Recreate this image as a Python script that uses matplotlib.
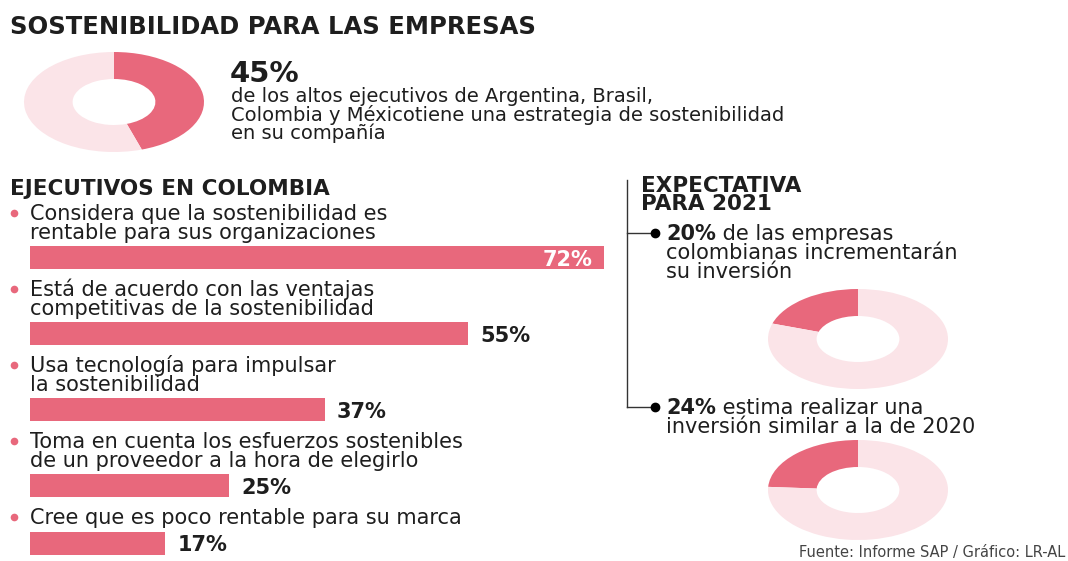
import matplotlib.pyplot as plt

# DATOS
pct_estrategia = 45
items = [
    "Considera que la sostenibilidad es\nrentable para sus organizaciones",
    "Está de acuerdo con las ventajas\ncompetitivas de la sostenibilidad",
    "Usa tecnología para impulsar\nla sostenibilidad",
    "Toma en cuenta los esfuerzos sostenibles\nde un proveedor a la hora de elegirlo",
    "Cree que es poco rentable para su marca",
]
valores = [72, 55, 37, 25, 17]
pct_incremento = 20
pct_similar = 24

ROSA = '#E8687C'
ROSA_CLARO = '#FBE4E8'
TXT = '#1E1E1E'
W, H = 1068, 561

plt.rcParams['font.family'] = ['DejaVu Sans']
fig = plt.figure(figsize=(W / 100, H / 100), dpi=100)
fig.patch.set_facecolor('white')

# eje de fondo en pixeles
bg = fig.add_axes([0, 0, 1, 1])
bg.set_xlim(0, W)
bg.set_ylim(H, 0)
bg.axis('off')


def px_axes(x0, y0, w, h):
    return fig.add_axes([x0 / W, 1 - (y0 + h) / H, w / W, h / H])


def dona(cx, cy, valor, horario):
    ax = px_axes(cx - 90, cy - 50, 180, 100)
    ax.pie([valor, 100 - valor], colors=[ROSA, ROSA_CLARO], startangle=90,
           counterclock=not horario,
           wedgeprops=dict(width=0.54, edgecolor='none'))
    ax.set_aspect('auto')
    ax.set_xlim(-1, 1)
    ax.set_ylim(-1, 1)
    ax.axis('off')


def negrita_y_texto(x, y, neg, resto):
    t = bg.text(x, y, neg, fontsize=15, fontweight='bold', color=TXT, va='baseline')
    bg.annotate(resto, xy=(1, 0), xycoords=t, fontsize=15, color=TXT,
                ha='left', va='bottom')


# CABECERA
bg.text(10, 34, 'SOSTENIBILIDAD PARA LAS EMPRESAS', fontsize=17.5,
        fontweight='bold', color=TXT, va='baseline')
dona(114, 102, pct_estrategia, True)
bg.text(230, 82, f'{pct_estrategia}%', fontsize=21, fontweight='bold',
        color=TXT, va='baseline')
cab = ["de los altos ejecutivos de Argentina, Brasil,",
       "Colombia y Méxicotiene una estrategia de sostenibilidad",
       "en su compañía"]
for k, l in enumerate(cab):
    bg.text(231, 102 + k * 18.5, l, fontsize=14, color=TXT, va='baseline')

# EJECUTIVOS EN COLOMBIA
bg.text(10, 195, 'EJECUTIVOS EN COLOMBIA', fontsize=15.5, fontweight='bold',
        color=TXT, va='baseline')

y = 220
centros = []
for texto, v in zip(items, valores):
    lineas = texto.split('\n')
    bg.plot(14, y - 7, 'o', ms=5.5, color=ROSA, mec='none')
    for k, l in enumerate(lineas):
        bg.text(30, y + k * 18.5, l, fontsize=15, color=TXT, va='baseline')
    top = y + (len(lineas) - 1) * 18.5 + 7.5
    centros.append(top + 11.5)
    y = top + 50

axb = px_axes(30, 0, 797, H)
axb.set_xlim(0, 100)
axb.set_ylim(H, 0)
axb.axis('off')
axb.barh(centros, valores, height=23, color=ROSA)
for c, v in zip(centros, valores):
    if v == max(valores):
        axb.annotate(f'{v}%', (v, c), xytext=(-11, 0), textcoords='offset pixels',
                     ha='right', va='center_baseline', fontsize=15,
                     fontweight='bold', color='white')
    else:
        axb.annotate(f'{v}%', (v, c), xytext=(12, 0), textcoords='offset pixels',
                     ha='left', va='center_baseline', fontsize=15,
                     fontweight='bold', color=TXT)

# EXPECTATIVA PARA 2021
bg.text(641, 192, 'EXPECTATIVA', fontsize=15.5, fontweight='bold', color=TXT, va='baseline')
bg.text(641, 210, 'PARA 2021', fontsize=15.5, fontweight='bold', color=TXT, va='baseline')

y1, y2 = 240, 414
bg.plot([627, 627], [180, y2 - 7], color='#333333', lw=1)
for yy in (y1, y2):
    bg.plot([627, 654], [yy - 7, yy - 7], color='#333333', lw=1)
    bg.plot(655, yy - 7, 'o', ms=6, color='black')

negrita_y_texto(666, y1, f'{pct_incremento}%', ' de las empresas')
bg.text(666, y1 + 19, 'colombianas incrementarán', fontsize=15, color=TXT, va='baseline')
bg.text(666, y1 + 38, 'su inversión', fontsize=15, color=TXT, va='baseline')
dona(858, 339, pct_incremento, False)

negrita_y_texto(666, y2, f'{pct_similar}%', ' estima realizar una')
bg.text(666, y2 + 19, 'inversión similar a la de 2020', fontsize=15, color=TXT, va='baseline')
dona(858, 490, pct_similar, False)

bg.text(1065, 557, 'Fuente: Informe SAP / Gráfico: LR-AL', fontsize=10.5,
        color='#444444', ha='right', va='baseline')

fig.savefig('out.png', dpi=100, facecolor='white')
